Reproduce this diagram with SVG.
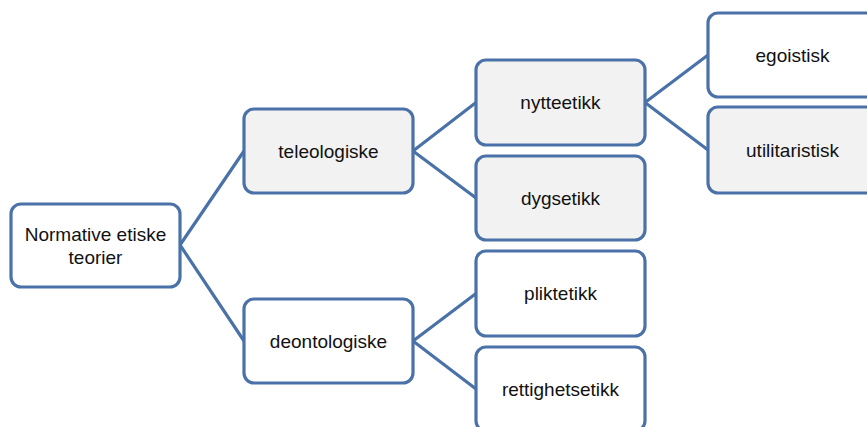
<svg xmlns="http://www.w3.org/2000/svg" width="867" height="427" viewBox="0 0 867 427">
<style>
.box{stroke:#4a72a8;stroke-width:3.2;}
.w{fill:#ffffff;}
.g{fill:#f2f2f2;}
.c{fill:none;stroke:#4a72a8;stroke-width:3.2;}
text{font-family:"Liberation Sans",Arial,sans-serif;font-size:19px;fill:#111;text-anchor:middle;}
</style>
<rect width="867" height="427" fill="#ffffff"/>
<g id="connectors">
<path class="c" d="M180,245 L244,151 M180,245 L244,341"/>
<path class="c" d="M413,151 L476,102.5 M413,151 L476,198"/>
<path class="c" d="M645,102.5 L708,55 M645,102.5 L708,150"/>
<path class="c" d="M413,341 L476,293.5 M413,341 L476,389"/>
</g>
<g id="root">
<rect class="box w" x="11" y="204" width="169" height="83" rx="10"/>
<text x="95.5" y="241">Normative etiske</text>
<text x="95.5" y="264">teorier</text>
</g>
<g id="teleologiske">
<rect class="box g" x="244" y="109" width="169" height="84" rx="10"/>
<text x="328.5" y="157.5">teleologiske</text>
</g>
<g id="deontologiske">
<rect class="box w" x="244" y="299" width="169" height="84" rx="10"/>
<text x="328.5" y="347.5">deontologiske</text>
</g>
<g id="nytteetikk">
<rect class="box g" x="476" y="60" width="169" height="85" rx="10"/>
<text x="560.5" y="109">nytteetikk</text>
</g>
<g id="dygsetikk">
<rect class="box g" x="476" y="156" width="169" height="84" rx="10"/>
<text x="560.5" y="204.5">dygsetikk</text>
</g>
<g id="pliktetikk">
<rect class="box w" x="476" y="251" width="169" height="85" rx="10"/>
<text x="560.5" y="300">pliktetikk</text>
</g>
<g id="rettighetsetikk">
<rect class="box w" x="476" y="347" width="169" height="84" rx="10"/>
<text x="560.5" y="395.5">rettighetsetikk</text>
</g>
<g id="egoistisk">
<rect class="box w" x="708" y="13" width="169" height="84" rx="10"/>
<text x="792.5" y="61.5">egoistisk</text>
</g>
<g id="utilitaristisk">
<rect class="box g" x="708" y="107" width="169" height="86" rx="10"/>
<text x="792.5" y="156.5">utilitaristisk</text>
</g>
</svg>
